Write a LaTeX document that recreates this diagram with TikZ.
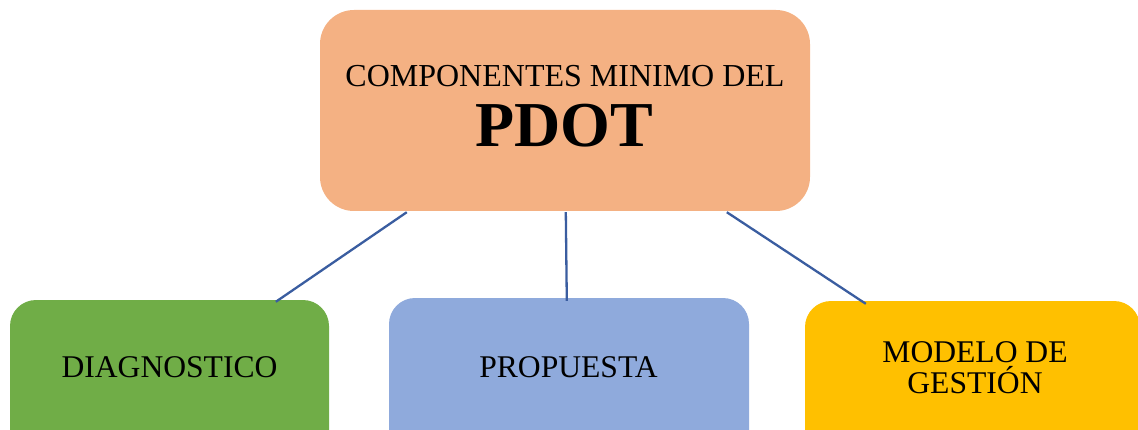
\documentclass[tikz,border=0pt]{standalone}
\usepackage{fontspec}
\setmainfont{Liberation Serif}
\usetikzlibrary{calc}
\definecolor{orangebox}{HTML}{F4B183}
\definecolor{greenbox}{HTML}{70AD47}
\definecolor{bluebox}{HTML}{8FAADC}
\definecolor{yellowbox}{HTML}{FFC000}
\definecolor{linkcol}{HTML}{3A5DA0}
\tikzset{
  box/.style={rounded corners=#1, draw=none, inner sep=0pt},
  lbl/.style={anchor=base, inner sep=0pt, font=\fontsize{31.6}{31.6}\selectfont},
  link/.style={draw=linkcol, line width=2.3pt}
}
\begin{document}
\begin{tikzpicture}[x=1pt,y=1pt]
\useasboundingbox (0,0) rectangle (1138,429);
\clip (0,0) rectangle (1138,429);
% boxes
\node[box=34pt, fill=orangebox, minimum width=490pt, minimum height=201pt] (top) at (565,318.5) {};
\node[box=26pt, fill=greenbox, minimum width=319pt, minimum height=160pt] (diag) at (169.5,49) {};
\node[box=26pt, fill=bluebox, minimum width=360pt, minimum height=160pt] (prop) at (569,51) {};
\node[box=26pt, fill=yellowbox, minimum width=335pt, minimum height=160pt] (mod) at (972.5,48) {};
% texts
\node[lbl, font=\fontsize{32}{32}\selectfont] (t1) at (565,342) {COMPONENTES MINIMO DEL};
\node[lbl, font=\fontsize{64}{64}\selectfont\bfseries] (t2) at (564,282) {PDOT};
\node[lbl] (t3) at (169.5,52) {DIAGNOSTICO};
\node[lbl] (t4) at (568.5,52) {PROPUESTA};
\node[lbl] (t5) at (975,67) {MODELO DE};
\node[lbl] (t6) at (975,36) {GESTIÓN};
% connectors
\draw[link] ($(top.south west)+(87,-1)$) -- ($(diag.north west)+(266,-2)$);
\draw[link] ($(top.south west)+(246,-1)$) -- ($(prop.north west)+(178,-3)$);
\draw[link] ($(top.south west)+(407,-1)$) -- ($(mod.north west)+(61,-3)$);
\end{tikzpicture}
\end{document}
